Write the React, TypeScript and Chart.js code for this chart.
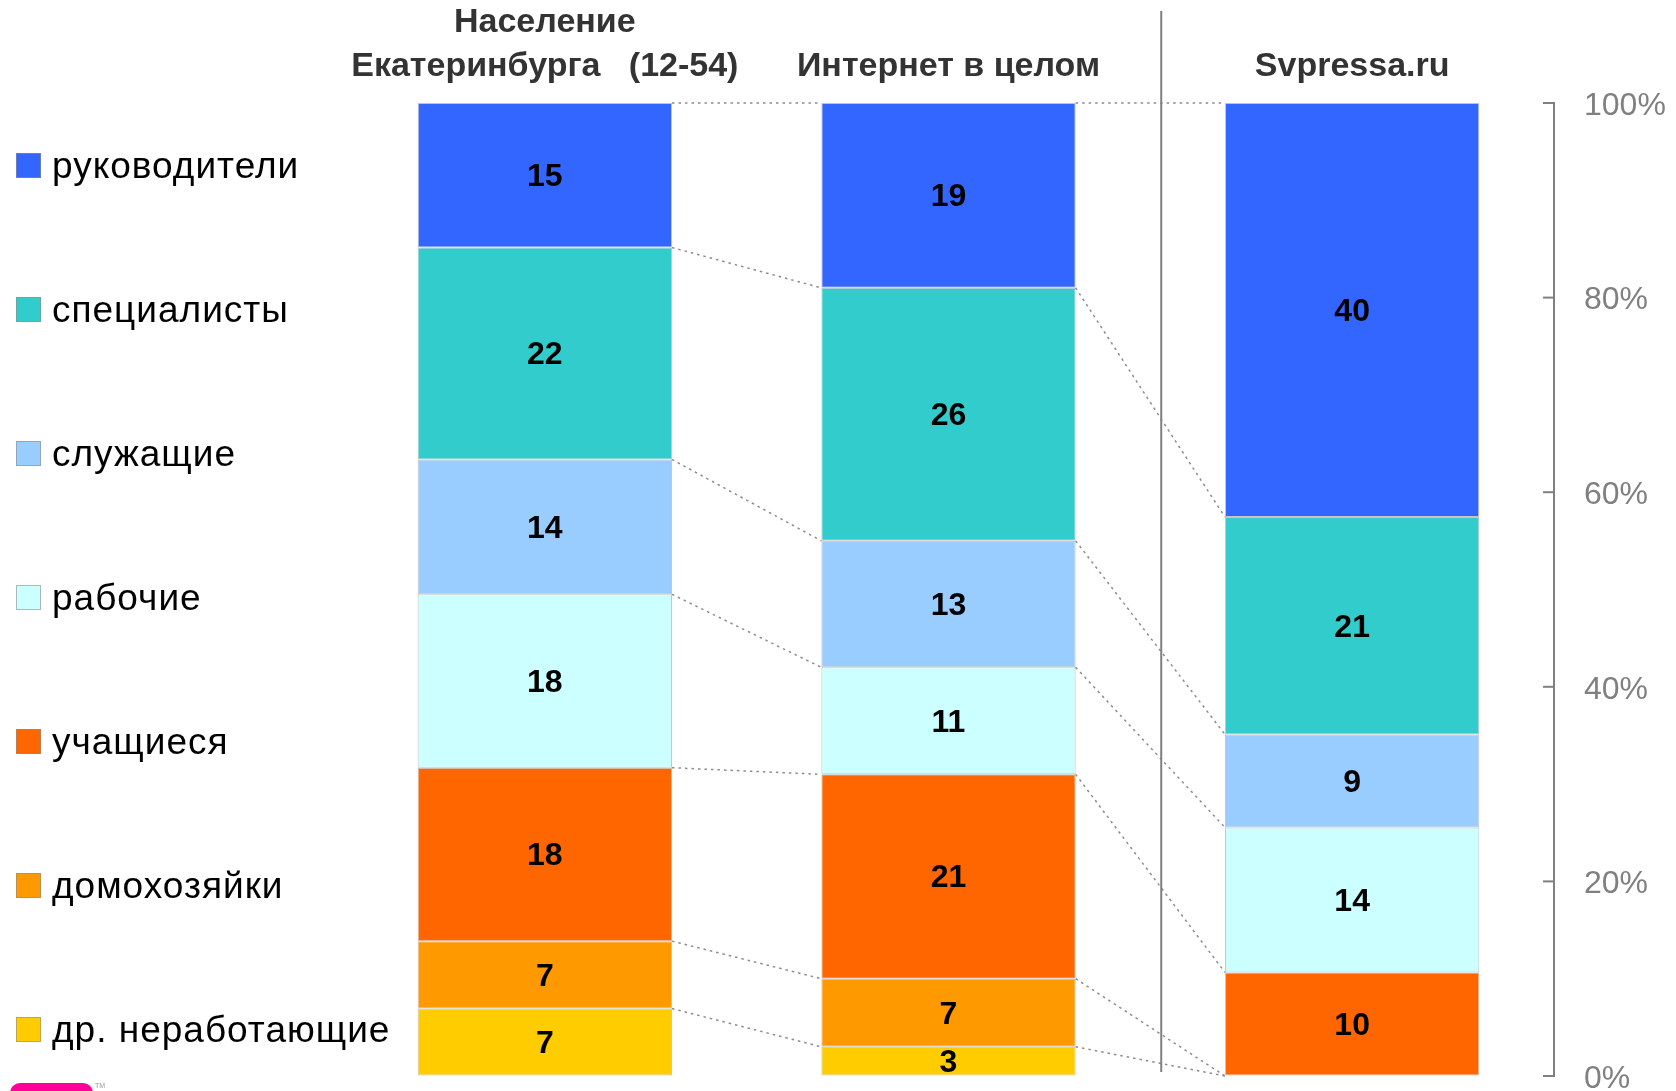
import React, { useEffect, useRef } from "react";
import { Chart, registerables } from "chart.js";

Chart.register(...registerables);

// ---- data ----
const groupTitles: string[][] = [
  ["Население", "Екатеринбурга   (12-54)"],
  ["Интернет в целом"],
  ["Svpressa.ru"],
];
const categories = [
  "руководители",
  "специалисты",
  "служащие",
  "рабочие",
  "учащиеся",
  "домохозяйки",
  "др. неработающие",
];
const colors = ["#3366FF", "#33CCCC", "#99CCFF", "#CCFFFF", "#FF6600", "#FF9900", "#FFCC00"];
const population = [15, 22, 14, 18, 18, 7, 7];
const internet = [19, 26, 13, 11, 21, 7, 3];
const svpressa = [40, 21, 9, 14, 10, 0, 0];
const yTickValues = [0, 20, 40, 60, 80, 100];

const FONT = '"Liberation Sans", Arial, sans-serif';
const W = 1676;
const H = 1091;

const groups = [population, internet, svpressa];
// share of each category within its group, so every bar sums to 100%
const shares = groups.map((g) => {
  const s = g.reduce((a, b) => a + b, 0);
  return g.map((v) => (v / s) * 100);
});
// stacking order: bottom first
const stackOrder = categories.map((_, i) => categories.length - 1 - i);

const overlay = {
  id: "overlay",
  afterDatasetsDraw(chart: any) {
    const ctx = chart.ctx as CanvasRenderingContext2D;
    const xs = chart.scales.x;
    const ys = chart.scales.y;
    const meta0 = chart.getDatasetMeta(0);

    // value labels
    ctx.save();
    ctx.font = `bold 32px ${FONT}`;
    ctx.fillStyle = "#000";
    ctx.textAlign = "center";
    ctx.textBaseline = "middle";
    chart.data.datasets.forEach((ds: any, di: number) => {
      const meta = chart.getDatasetMeta(di);
      meta.data.forEach((el: any, gi: number) => {
        const raw = ds.rawValues[gi];
        if (!raw) return;
        ctx.fillText(String(raw), el.x, (el.y + el.base) / 2 + 2);
      });
    });
    ctx.restore();

    // dotted connectors between adjacent bars
    ctx.save();
    ctx.strokeStyle = "#8c8c8c";
    ctx.lineWidth = 1.5;
    ctx.setLineDash([2.5, 4]);
    for (let g = 0; g < groups.length - 1; g++) {
      const a = meta0.data[g];
      const b = meta0.data[g + 1];
      const x1 = a.x + a.width / 2;
      const x2 = b.x - b.width / 2;
      let cumA = 0;
      let cumB = 0;
      stackOrder.forEach((c) => {
        cumA += shares[g][c];
        cumB += shares[g + 1][c];
        ctx.beginPath();
        ctx.moveTo(x1, ys.getPixelForValue(Math.min(cumA, 100)));
        ctx.lineTo(x2, ys.getPixelForValue(Math.min(cumB, 100)));
        ctx.stroke();
      });
    }
    ctx.restore();

    // separator line between second and third group
    const c1 = xs.getPixelForValue(1);
    const c2 = xs.getPixelForValue(2);
    const sx = c1 + (c2 - c1) * 0.527;
    ctx.save();
    ctx.strokeStyle = "#808080";
    ctx.lineWidth = 2;
    ctx.beginPath();
    ctx.moveTo(sx, 11);
    ctx.lineTo(sx, 1072);
    ctx.stroke();
    ctx.restore();

    // inward tick marks on the right axis
    ctx.save();
    ctx.strokeStyle = "#808080";
    ctx.lineWidth = 2;
    ys.ticks.forEach((t: any) => {
      const y = ys.getPixelForValue(t.value);
      ctx.beginPath();
      ctx.moveTo(ys.left - 11, y);
      ctx.lineTo(ys.left, y);
      ctx.stroke();
    });
    ctx.restore();

    // group titles
    ctx.save();
    ctx.font = `bold 34px ${FONT}`;
    ctx.fillStyle = "#333333";
    ctx.textAlign = "center";
    ctx.textBaseline = "middle";
    groupTitles.forEach((lines, gi) => {
      const x = xs.getPixelForValue(gi);
      const n = lines.length;
      lines.forEach((ln, li) => {
        const y = 67 - (n - 1 - li) * 44;
        ctx.fillText(ln, x, y);
      });
    });
    ctx.restore();

    // legend
    ctx.save();
    ctx.font = `37px ${FONT}`;
    (ctx as any).letterSpacing = "1px";
    ctx.textBaseline = "middle";
    ctx.textAlign = "left";
    categories.forEach((name, i) => {
      const cy = 166 + i * 144;
      ctx.fillStyle = colors[i];
      ctx.fillRect(16, cy - 13, 25, 25);
      ctx.strokeStyle = "rgba(140,140,140,0.6)";
      ctx.lineWidth = 1;
      ctx.strokeRect(16.5, cy - 12.5, 24, 24);
      ctx.fillStyle = "#000";
      ctx.fillText(name, 52, cy + 2);
    });
    ctx.restore();

    // small logo fragment at bottom-left
    ctx.save();
    ctx.fillStyle = "#FF0099";
    ctx.beginPath();
    (ctx as any).roundRect(10, 1083, 83, 20, 10);
    ctx.fill();
    ctx.fillStyle = "#999";
    ctx.font = `7px ${FONT}`;
    ctx.fillText("TM", 95, 1088);
    ctx.restore();
  },
};

export default function App() {
  const ref = useRef<HTMLCanvasElement | null>(null);

  useEffect(() => {
    if (!ref.current) return;
    const datasets = stackOrder.map((c) => ({
      label: categories[c],
      data: shares.map((s) => s[c]),
      rawValues: groups.map((g) => g[c]),
      backgroundColor: colors[c],
      borderColor: "rgba(150,150,150,0.55)",
      borderWidth: 1,
      borderSkipped: false,
      barPercentage: 0.63,
      categoryPercentage: 1,
    }));
    const chart = new Chart(ref.current, {
      type: "bar",
      data: { labels: groupTitles.map((t) => t.join(" ")), datasets: datasets as any },
      options: {
        responsive: false,
        animation: false,
        devicePixelRatio: 1,
        layout: { padding: { left: 343, top: 103, right: 0, bottom: 15 } },
        plugins: {
          legend: { display: false },
          tooltip: { enabled: false },
        },
        scales: {
          x: { stacked: true, display: false },
          y: {
            stacked: true,
            position: "right",
            min: 0,
            max: 100,
            afterBuildTicks: (s: any) => {
              s.ticks = yTickValues.map((v) => ({ value: v }));
            },
            afterFit: (s: any) => {
              s.width = W - 1554;
              s.paddingTop = 0;
              s.paddingBottom = 0;
            },
            ticks: {
              stepSize: 20,
              callback: (v: any) => `${v}%`,
              color: "#808080",
              font: { family: FONT, size: 32, lineHeight: 0.9 },
              padding: 8,
              labelOffset: 3,
            },
            grid: {
              display: true,
              drawOnChartArea: false,
              drawTicks: true,
              tickLength: 22,
              tickColor: "transparent",
            },
            border: { display: true, color: "#808080", width: 2 },
          },
        },
      },
      plugins: [overlay],
    });
    return () => chart.destroy();
  }, []);

  return (
    <div style={{ position: "absolute", left: 0, top: 0, width: W, height: H, background: "#fff" }}>
      <canvas ref={ref} width={W} height={H} style={{ display: "block", width: W, height: H }} />
    </div>
  );
}
